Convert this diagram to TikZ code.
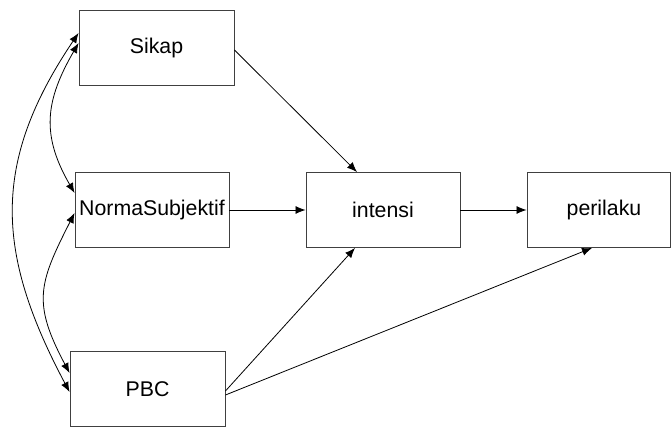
\documentclass[tikz,border=0pt]{standalone}
\usepackage{fontspec}
\setmainfont{Liberation Sans}
\usetikzlibrary{arrows.meta}
\begin{document}
\begin{tikzpicture}[x=1pt,y=1pt,
  box/.style={draw=black!75, line width=0.9pt, minimum height=75pt, inner sep=0pt,
    font=\fontsize{21.3}{25}\selectfont},
  arr/.style={line width=0.8pt, -{Latex[length=10pt,width=8pt]}},
  dbl/.style={line width=0.8pt, {Latex[length=10pt,width=8pt]}-{Latex[length=10pt,width=8pt]}}]
\useasboundingbox (0,0) rectangle (671,-427);
\node[box, minimum width=155pt] (sikap) at (156.5,-47.5) {Sikap};
\node[box, minimum width=154pt] (norma) at (152,-210) {NormaSubjektif};
\node[box, minimum width=155pt] (pbc) at (147.5,-389) {PBC};
\node[box, minimum width=154pt] (intensi) at (383,-210) {intensi};
\node[box, minimum width=143pt] (perilaku) at (598.5,-210) {\hspace*{11pt}perilaku};
% straight arrows
\draw[arr] ([yshift=-2.5pt]sikap.east) -- ([xshift=-26pt]intensi.north);
\draw[arr] (norma.east) -- (intensi.west);
\draw[arr] (intensi.east) -- (perilaku.west);
\draw[arr] ([yshift=-2pt]pbc.east) -- ([xshift=-28pt]intensi.south);
\draw[arr] ([yshift=-6pt]pbc.east) -- ([xshift=-6.5pt]perilaku.south);
% curved double arrows
\draw[dbl] ([yshift=4.5pt]sikap.west) .. controls +(240:67pt) and +(120:67pt) .. ([yshift=17pt]norma.west);
\draw[dbl] ([yshift=14.5pt]sikap.west) .. controls +(236:157pt) and +(118:157pt) .. ([yshift=-3pt]pbc.west);
\draw[dbl] ([yshift=-3pt]norma.west) .. controls +(243:79.5pt) and +(118:79.5pt) .. ([yshift=16pt]pbc.west);
\end{tikzpicture}
\end{document}
